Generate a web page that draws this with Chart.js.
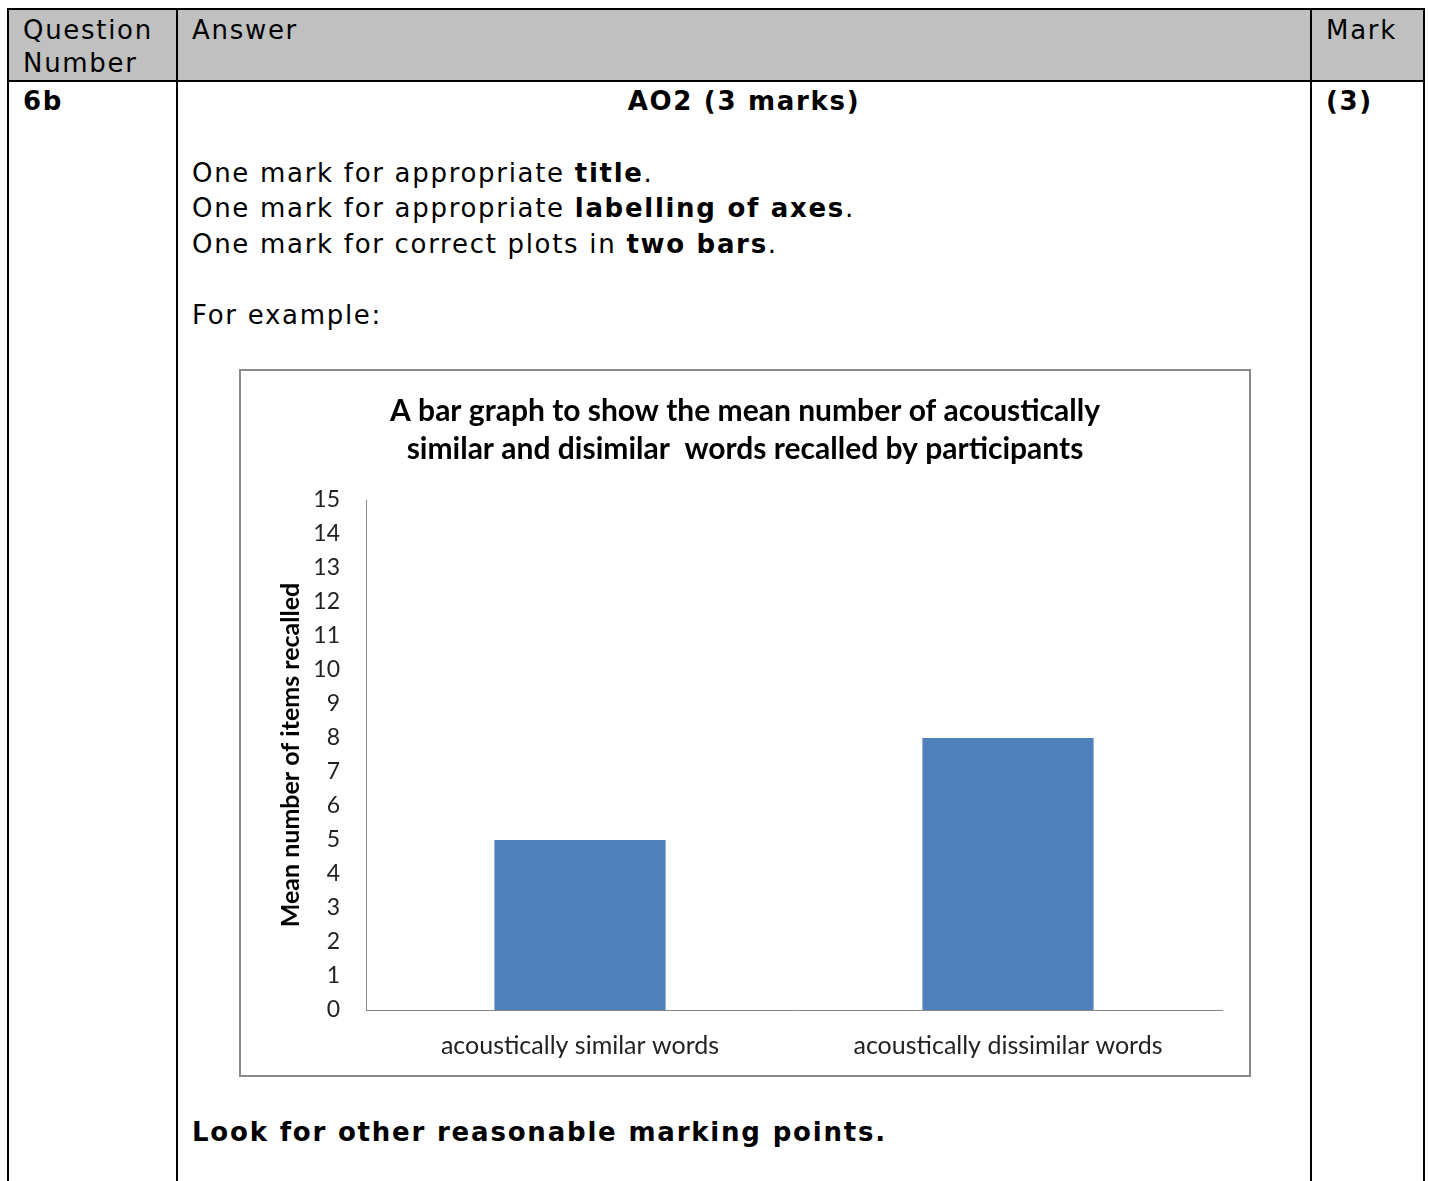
<!DOCTYPE html>
<html>
<head>
<meta charset="utf-8">
<script src="https://cdn.jsdelivr.net/npm/chart.js@4.4.1/dist/chart.umd.min.js"></script>
<style>
    body { margin: 0; background: #fff; font-family: "DejaVu Sans", Verdana, sans-serif; color: #000; }
    table.scheme {
        position: absolute; left: 7px; top: 8px; width: 1416px;
        border-collapse: collapse; table-layout: fixed;
        font-size: 26px; letter-spacing: 1.7px;
    }
    table.scheme td { border: 2px solid #000; vertical-align: top; padding: 0 0 0 14px; }
    table.scheme tr.head td { background: #c0c0c0; height: 66px; line-height: 33px; padding-top: 4px; }
    table.scheme tr.body td { height: 1120px; line-height: 35.5px; padding-top: 2px; }
    .centre { text-align: center; font-weight: bold; margin-left: -14px; }
    .body-text { margin-top: 36px; }
    .frame {
        position: absolute; left: 239px; top: 369px; width: 1008px; height: 704px;
        border: 2px solid #8a8a8a; background: #fff;
    }
    .frame canvas { display: block; }
    .look { position: absolute; left: 192px; top: 1117px; font-weight: bold; font-size: 26px; letter-spacing: 1.8px; }
</style>
</head>
<body>
<table class="scheme">
    <colgroup><col style="width:169px"><col style="width:1134px"><col style="width:113px"></colgroup>
    <tr class="head">
        <td>Question<br>Number</td>
        <td>Answer</td>
        <td>Mark</td>
    </tr>
    <tr class="body">
        <td><b>6b</b></td>
        <td>
            <div class="centre">AO2 (3 marks)</div>
            <div class="body-text">
                One mark for appropriate <b>title</b>.<br>
                One mark for appropriate <b>labelling of axes</b>.<br>
                One mark for correct plots in <b>two bars</b>.<br>
                <br>
                For example:
            </div>
        </td>
        <td><b>(3)</b></td>
    </tr>
</table>

<div class="frame">
    <canvas id="barChart" width="1008" height="704"></canvas>
</div>
<div class="look">Look for other reasonable marking points.</div>

<script>
// data
const categories = ['acoustically similar words', 'acoustically dissimilar words'];
const meanRecalled = [5, 8];
const titleLines = [
    'A bar graph to show the mean number of acoustically',
    'similar and disimilar  words recalled by participants'
];
const yAxisTitle = 'Mean number of items recalled';
const yMin = 0;
const yMax = 15;
const yStep = 1;

const chartFont = 'Lato, "Open Sans", sans-serif';

new Chart(document.getElementById('barChart'), {
    type: 'bar',
    data: {
        labels: categories,
        datasets: [{
            data: meanRecalled,
            backgroundColor: '#4f81bd',
            borderWidth: 0,
            barPercentage: 0.4,
            categoryPercentage: 1.0
        }]
    },
    options: {
        responsive: false,
        animation: false,
        // equal side padding keeps the title centred on the frame
        layout: { padding: { left: 27, right: 27, top: 0, bottom: 0 } },
        plugins: {
            legend: { display: false },
            tooltip: { enabled: false },
            title: {
                display: true,
                text: titleLines,
                color: '#000',
                font: { family: chartFont, size: 30, weight: 'bold', lineHeight: 1.267 },
                padding: { top: 21, bottom: 32 }
            }
        },
        scales: {
            x: {
                grid: { display: false, drawTicks: false },
                border: { display: true, color: '#868686', width: 1 },
                ticks: {
                    color: '#222',
                    padding: 21,
                    maxRotation: 0,
                    font: { family: chartFont, size: 25 }
                },
                afterFit: (scale) => { scale.height = 65; }
            },
            y: {
                min: yMin,
                max: yMax,
                grid: { display: false, drawTicks: false },
                border: { display: true, color: '#868686', width: 1 },
                ticks: {
                    stepSize: yStep,
                    color: '#222',
                    padding: 26,
                    font: { family: chartFont, size: 23 }
                },
                title: {
                    display: true,
                    text: yAxisTitle,
                    color: '#000',
                    font: { family: chartFont, size: 25, weight: 'bold' },
                    padding: { top: 8, bottom: 0 }
                },
                afterFit: (scale) => { scale.width = 98; }
            }
        }
    }
});
</script>
</body>
</html>
